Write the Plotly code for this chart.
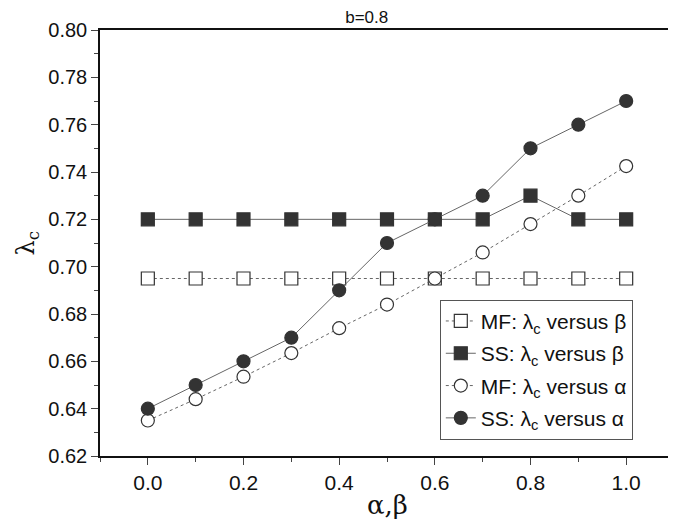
import plotly.graph_objects as go

# datos
x_vals = [0.0, 0.1, 0.2, 0.3, 0.4, 0.5, 0.6, 0.7, 0.8, 0.9, 1.0]
mf_beta = [0.695, 0.695, 0.695, 0.695, 0.695, 0.695, 0.695, 0.695, 0.695, 0.695, 0.695]
ss_beta = [0.72, 0.72, 0.72, 0.72, 0.72, 0.72, 0.72, 0.72, 0.73, 0.72, 0.72]
mf_alpha = [0.635, 0.644, 0.6535, 0.6635, 0.674, 0.684, 0.695, 0.706, 0.718, 0.730, 0.7425]
ss_alpha = [0.64, 0.65, 0.66, 0.67, 0.69, 0.71, 0.72, 0.73, 0.75, 0.76, 0.77]
nombres = ['MF: λ<sub>c</sub> versus β', 'SS: λ<sub>c</sub> versus β',
           'MF: λ<sub>c</sub> versus α', 'SS: λ<sub>c</sub> versus α']

LINE = '#666666'
MARK = '#333333'
FONT = 'Liberation Sans, Arial, sans-serif'

fig = go.Figure()

# (valores, simbolo, relleno, estilo de linea)
estilos = [
    (mf_beta, 'square', 'white', 'dot'),
    (ss_beta, 'square', MARK, 'solid'),
    (mf_alpha, 'circle', 'white', 'dot'),
    (ss_alpha, 'circle', MARK, 'solid'),
]
for i, (vals, simbolo, relleno, estilo) in enumerate(estilos):
    fig.add_trace(go.Scatter(
        x=x_vals, y=vals, name=nombres[i], mode='lines+markers',
        legendgroup=str(i),
        line=dict(color=LINE, width=1, dash=estilo),
        marker=dict(symbol=simbolo, size=13, color=relleno,
                    line=dict(color=MARK, width=1.2)),
    ))

# la pagina agrega 8px de margen, se compensa con el tamaño
fig.update_layout(
    width=668, height=518,
    margin=dict(l=92, r=2, t=22, b=70),
    paper_bgcolor='white', plot_bgcolor='white',
    font=dict(family=FONT, size=20, color='#111111'),
    title=dict(text='b=0.8', x=0.537, xanchor='center', y=0.983, yanchor='middle',
               pad=dict(t=0, b=0), font=dict(size=17)),
    showlegend=True,
    legend=dict(x=0.592, y=0.038, xanchor='left', yanchor='bottom',
                bordercolor='#555555', borderwidth=1, bgcolor='white',
                tracegroupgap=2, font=dict(size=21)),
    xaxis=dict(
        range=[-0.1, 1.1], tick0=0, dtick=0.2, tickformat='.1f', automargin=False,
        showline=True, mirror=True, linecolor='#111111', linewidth=1.5,
        ticks='outside', ticklen=7, tickwidth=1.2, showgrid=False, zeroline=False,
        tickfont=dict(size=21),
        minor=dict(ticks='outside', ticklen=4, dtick=0.1, tick0=0, showgrid=False),
    ),
    yaxis=dict(
        range=[0.62, 0.80], tick0=0.62, dtick=0.02, tickformat='.2f', automargin=False,
        showline=True, mirror=True, linecolor='#111111', linewidth=1.5,
        ticks='outside', ticklen=7, tickwidth=1.2, showgrid=False, zeroline=False,
        minor=dict(ticks='outside', ticklen=4, dtick=0.01, showgrid=False),
    ),
    annotations=[
        dict(text='α,β', xref='paper', yref='paper', x=0.5, y=-0.115, yanchor='middle',
             showarrow=False, font=dict(family='DejaVu Serif, serif', size=26)),
        dict(text='λ<sub>c</sub>', xref='paper', yref='paper', x=-0.128, y=0.5,
             xanchor='center', yanchor='middle', textangle=-90,
             showarrow=False, font=dict(family='DejaVu Serif, serif', size=24)),
    ],
)

fig.write_html("out.html")
